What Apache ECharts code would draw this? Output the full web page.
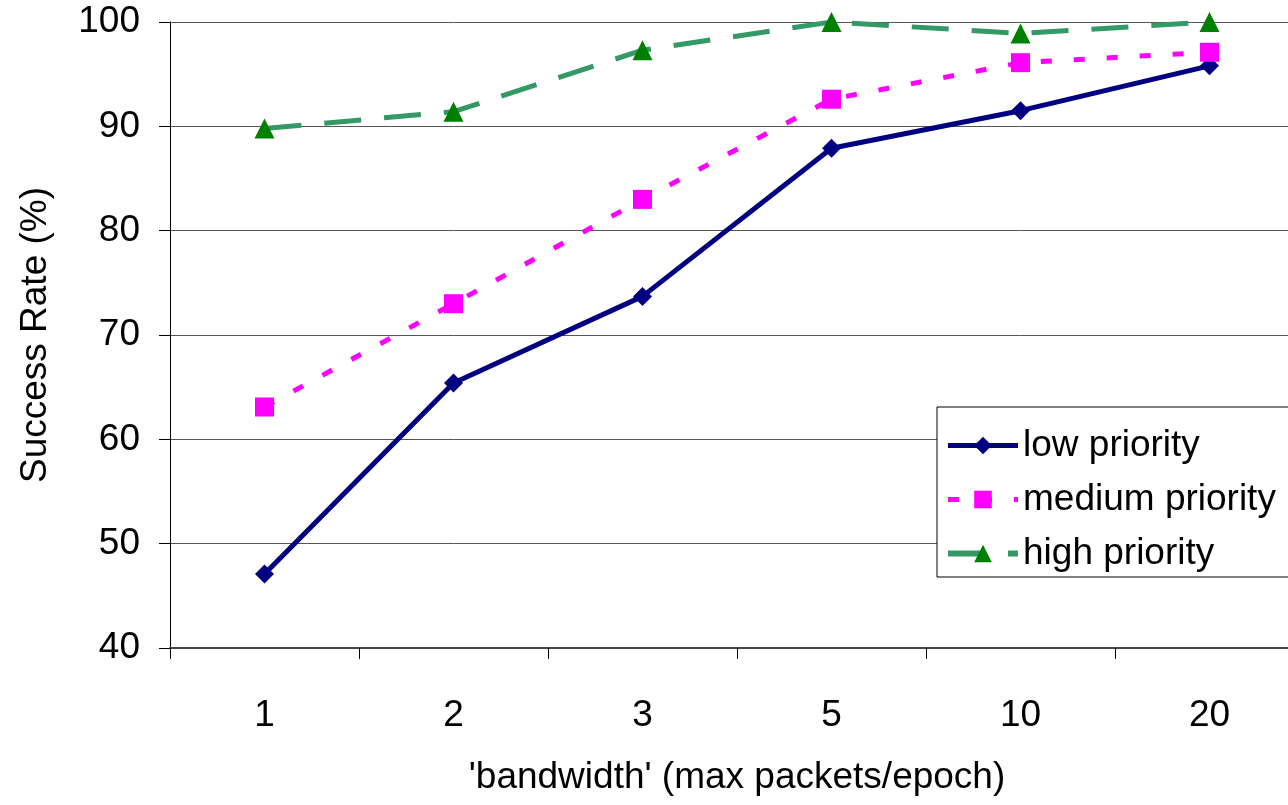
<!DOCTYPE html>
<html><head><meta charset="utf-8">
<script src="https://cdn.jsdelivr.net/npm/echarts@6/dist/echarts.min.js"></script>
<style>html,body{margin:0;padding:0;background:#fff;overflow:hidden}#c{width:1320px;height:805px}</style>
</head><body><div id="c"></div>
<script>
const categories = ['1','2','3','5','10','20'];
const lowPriority = [47.1, 65.4, 73.7, 87.9, 91.5, 95.8];
const mediumPriority = [63.1, 73.0, 83.0, 92.6, 96.1, 97.1];
const highPriority = [89.8, 91.4, 97.3, 100, 98.9, 100];

const chart = echarts.init(document.getElementById('c'));
const font = 'Liberation Sans, Arial, sans-serif';
chart.setOption({
  animation: false,
  textStyle: {fontFamily: font},
  grid: {left: 170, right: 16, top: 22, bottom: 157},
  legend: {
    orient: 'vertical', left: 937, top: 407,
    padding: [20, 80, 5, 8],
    backgroundColor: '#fff', borderColor: '#000', borderWidth: 1, borderRadius: 0,
    itemWidth: 70, itemHeight: 22, itemGap: 17,
    textStyle: {fontSize: 37, color: '#000', fontFamily: font},
    data: [
      {name: 'low priority', lineStyle: {width: 5}},
      {name: 'medium priority', lineStyle: {width: 5}},
      {name: 'high priority', lineStyle: {width: 6}}
    ]
  },
  xAxis: {
    type: 'category', data: categories, boundaryGap: true,
    axisLine: {lineStyle: {color: '#444', width: 2}},
    axisTick: {show: true, length: 11, lineStyle: {color: '#000', width: 1}},
    axisLabel: {fontSize: 37, color: '#000', margin: 49, fontFamily: font},
    name: "'bandwidth' (max packets/epoch)", nameLocation: 'middle', nameGap: 111,
    nameTextStyle: {fontSize: 37, color: '#000', fontFamily: font}
  },
  yAxis: {
    type: 'value', min: 40, max: 100, interval: 10,
    axisLine: {show: true, lineStyle: {color: '#000', width: 1}},
    axisTick: {show: true, length: 11, lineStyle: {color: '#000'}},
    axisLabel: {fontSize: 37, color: '#000', margin: 30, fontFamily: font},
    splitLine: {lineStyle: {color: '#555', width: 1}},
    name: 'Success Rate (%)', nameLocation: 'middle', nameGap: 116, nameRotate: 90,
    nameTextStyle: {fontSize: 37, color: '#000', fontFamily: font}
  },
  series: [
    {name: 'low priority', type: 'line', data: lowPriority,
     symbol: 'diamond', symbolSize: 19,
     lineStyle: {color: '#000080', width: 5},
     itemStyle: {color: '#000080'}},
    {name: 'medium priority', type: 'line', data: mediumPriority,
     symbol: 'rect', symbolSize: 19,
     lineStyle: {color: '#ff00ff', width: 5, type: [11, 22]},
     itemStyle: {color: '#ff00ff'}},
    {name: 'high priority', type: 'line', data: highPriority,
     symbol: 'triangle', symbolSize: 20,
     lineStyle: {color: '#339966', width: 5, type: [37, 23]},
     itemStyle: {color: '#008000'}}
  ]
});
</script></body></html>
